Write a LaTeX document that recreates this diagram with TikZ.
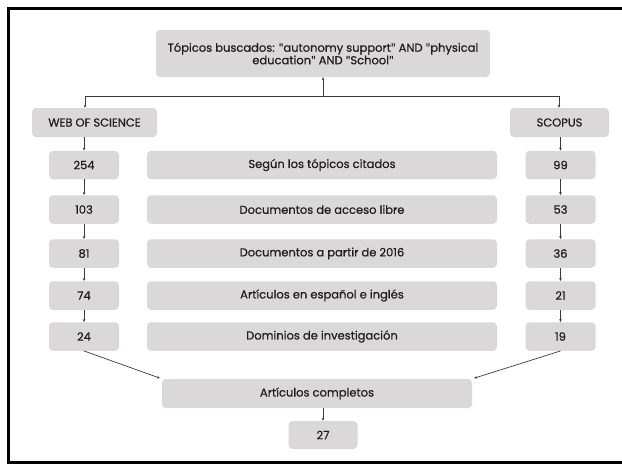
\documentclass[tikz,border=0pt]{standalone}
\usepackage{fontspec}
\setmainfont{Poppins}
\newfontfamily\boxfont{Poppins}[FakeBold=0.6]
\newfontfamily\quotefont{Open Sans}[FakeBold=0.6]
\newcommand\dq{{\quotefont"}}
\usetikzlibrary{arrows.meta}
\definecolor{boxgray}{HTML}{DAD8D8}
\definecolor{inkgray}{HTML}{1E1E1E}
\definecolor{linegray}{HTML}{3A3A3A}

\begin{document}
\begin{tikzpicture}[x=1pt,y=-1pt,->,>={Stealth[length=3pt,width=2.6pt]},
                every edge/.style={draw,linegray,line width=0.7pt},
                box/.style={rectangle,rounded corners=4pt,fill=boxgray,inner sep=0pt,
                  text=inkgray,align=center,font=\boxfont\fontsize{11.5}{12.5}\selectfont},
                num node/.style={box,minimum width=70pt,minimum height=28.5pt},
                crit node/.style={box,minimum width=350pt,minimum height=28.5pt}]
  \useasboundingbox (0,0) rectangle (622,464);
  \draw[-,line width=3pt] (8.5,8.5) rectangle (700,462.5);

  % search and databases
  \node[box,minimum width=334pt,minimum height=47pt] (top) at (323,53.5)
    {Tópicos buscados: \dq autonomy support\dq{} AND \dq physical\\education\dq{} AND \dq School\dq};
  \node[box,minimum width=125pt,minimum height=29pt] (wos) at (94.5,122.5) {WEB OF SCIENCE};
  \node[box,minimum width=99pt,minimum height=29pt] (scopus) at (559.5,122.5) {SCOPUS};

  % filters
  \node[num node] (wos1) at (84,165) {254};
  \node[crit node] (crit1) at (322,165) {Según los tópicos citados};
  \node[num node] (sco1) at (560.5,165) {99};

  \node[num node] (wos2) at (84,209.5) {103};
  \node[crit node] (crit2) at (322,209.5) {Documentos de acceso libre};
  \node[num node] (sco2) at (560.5,209.5) {53};

  \node[num node] (wos3) at (84,253.5) {81};
  \node[crit node] (crit3) at (322,253.5) {Documentos a partir de 2016};
  \node[num node] (sco3) at (560.5,253.5) {36};

  \node[num node] (wos4) at (84,295.5) {74};
  \node[crit node] (crit4) at (322,295.5) {Artículos en español e inglés};
  \node[num node] (sco4) at (560.5,295.5) {21};

  \node[num node] (wos5) at (84,336.5) {24};
  \node[crit node] (crit5) at (322,336.5) {Dominios de investigación};
  \node[num node] (sco5) at (560.5,336.5) {19};

  % result
  \node[box,minimum width=310pt,minimum height=29pt] (full) at (317,393.5) {Artículos completos};
  \node[num node,minimum width=69pt,minimum height=28pt] (total) at (323,435) {27};

  \coordinate (forkL) at (85,96);
  \coordinate (forkM) at (323,96);
  \coordinate (forkR) at (559,96);

  \draw[-,linegray,line width=0.7pt] (forkL) -- (forkR);

  \path
    (forkM) edge (top)
    (forkL) edge (wos.north -| forkL)
    (forkR) edge (scopus.north -| forkR);

  \path
    (wos.south -| wos1) edge (wos1)
    (wos1) edge (wos2)
    (wos2) edge (wos3)
    (wos3) edge (wos4)
    (wos4) edge (wos5)
    (scopus.south -| sco1) edge (sco1)
    (sco1) edge (sco2)
    (sco2) edge (sco3)
    (sco3) edge (sco4)
    (sco4) edge (sco5)
    ;

  \path
    (wos5.south) edge [shorten >=2pt] (full.north west)
    (sco5.south) edge [shorten >=2pt] (full.north east)
    (full.south -| total) edge (total);
\end{tikzpicture}
\end{document}
